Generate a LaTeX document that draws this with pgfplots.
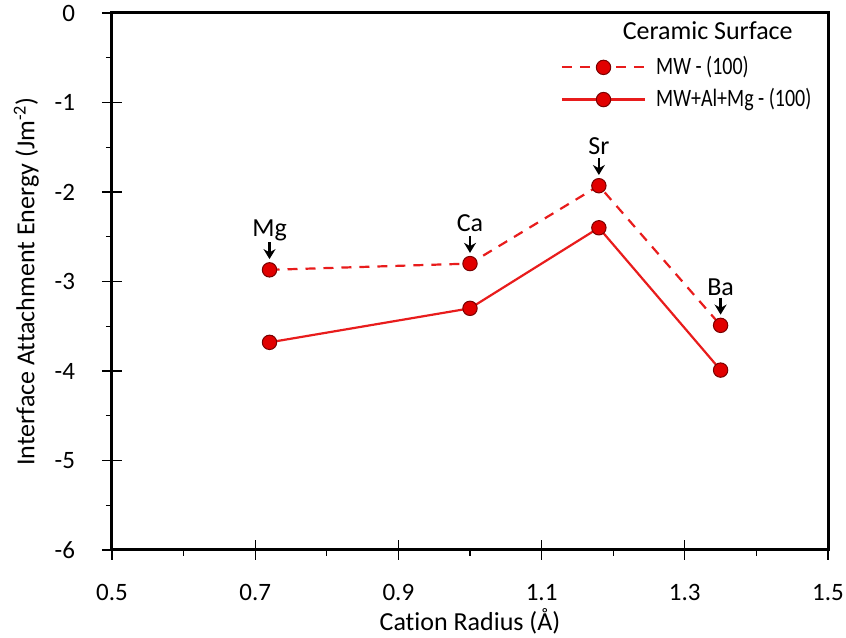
\documentclass[border=0pt]{standalone}
\usepackage{fontspec}
\setmainfont[Ligatures={NoCommon}]{Carlito}
\newfontfamily\legfont[FakeStretch=0.8,Ligatures={NoCommon}]{Carlito}
\usepackage{pgfplots}
\pgfplotsset{compat=1.18}
\usetikzlibrary{arrows.meta}
\definecolor{lred}{RGB}{232,28,28}
\definecolor{mred}{RGB}{225,0,0}
\definecolor{dred}{RGB}{120,0,0}
\begin{document}
\fontsize{13}{15}\selectfont
\begin{tikzpicture}
\begin{axis}[
  scale only axis,
  width=358pt, height=268.5pt,
  xmin=0.5, xmax=1.5, ymin=-6, ymax=0,
  axis line style={line width=1.5pt},
  xtick={0.5,0.7,0.9,1.1,1.3,1.5},
  xticklabels={0.5,0.7,0.9,1.1,1.3,1.5},
  ytick={-6,-5,-4,-3,-2,-1,0},
  yticklabels={-6,-5,-4,-3,-2,-1,0},
  extra x ticks={0.6,0.8,1.0,1.2,1.4},
  extra x tick labels={},
  extra x tick style={tick align=outside, major tick length=3pt},
  extra y ticks={-5.5,-4.5,-3.5,-2.5,-1.5,-0.5},
  extra y tick labels={},
  extra y tick style={tick align=outside, major tick length=3pt},
  tick align=center,
  major tick length=10pt,
  tick style={black, line width=0.6pt},
  xtick pos=bottom, ytick pos=left,
  ticklabel style={font=\fontsize{12.5}{14}\selectfont},
  xticklabel style={yshift=-7.5pt},
  yticklabel style={xshift=-9pt},
  xlabel={Cation Radius (Å)},
  ylabel={Interface Attachment Energy (Jm\textsuperscript{-2})},
  xlabel style={at={(rel axis cs:0.5,0)}, anchor=center, yshift=-35.5pt},
  ylabel style={yshift=-9pt},
  legend style={draw=none, fill=none, at={(rel axis cs:0.618,0.935)}, anchor=north west,
    row sep=1pt, font=\legfont\fontsize{12.5}{14}\selectfont,
    nodes={inner xsep=5pt}},
  legend cell align=left,
  legend image code/.code={\draw[mark repeat=2,mark phase=2,#1] plot coordinates {(0cm,0cm) (0.73cm,0cm) (1.46cm,0cm)};},
]
\addplot[lred, line width=1.1pt, dash pattern=on 5pt off 4pt, mark=*, mark size=3.6pt,
  mark options={solid, fill=mred, draw=dred, line width=0.5pt}]
  coordinates {(0.72,-2.87) (1.00,-2.80) (1.18,-1.93) (1.35,-3.49)};
\addlegendentry{MW - (100)}
\addplot[lred, line width=1.1pt, mark=*, mark size=3.6pt,
  mark options={solid, fill=mred, draw=dred, line width=0.5pt}]
  coordinates {(0.72,-3.68) (1.00,-3.30) (1.18,-2.40) (1.35,-3.99)};
\addlegendentry{MW+Al+Mg - (100)}
\node at (rel axis cs:0.832,0.968) {Ceramic Surface};
\node at (axis cs:0.72,-2.43) {Mg};
\draw[-{Stealth[length=5pt,width=6pt]}, line width=1.2pt] (axis cs:0.72,-2.56) -- (axis cs:0.72,-2.75);
\node at (axis cs:1.00,-2.35) {Ca};
\draw[-{Stealth[length=5pt,width=6pt]}, line width=1.2pt] (axis cs:1.00,-2.49) -- (axis cs:1.00,-2.68);
\node at (axis cs:1.18,-1.49) {Sr};
\draw[-{Stealth[length=5pt,width=6pt]}, line width=1.2pt] (axis cs:1.18,-1.62) -- (axis cs:1.18,-1.81);
\node at (axis cs:1.35,-3.06) {Ba};
\draw[-{Stealth[length=5pt,width=6pt]}, line width=1.2pt] (axis cs:1.35,-3.18) -- (axis cs:1.35,-3.37);
\coordinate (BL) at (rel axis cs:0,0);
\coordinate (TR) at (rel axis cs:1,1);
\end{axis}
\pgfresetboundingbox
\path[use as bounding box] ([xshift=-56pt,yshift=-44pt]BL) rectangle ([xshift=9pt,yshift=6.5pt]TR);
\end{tikzpicture}
\end{document}
